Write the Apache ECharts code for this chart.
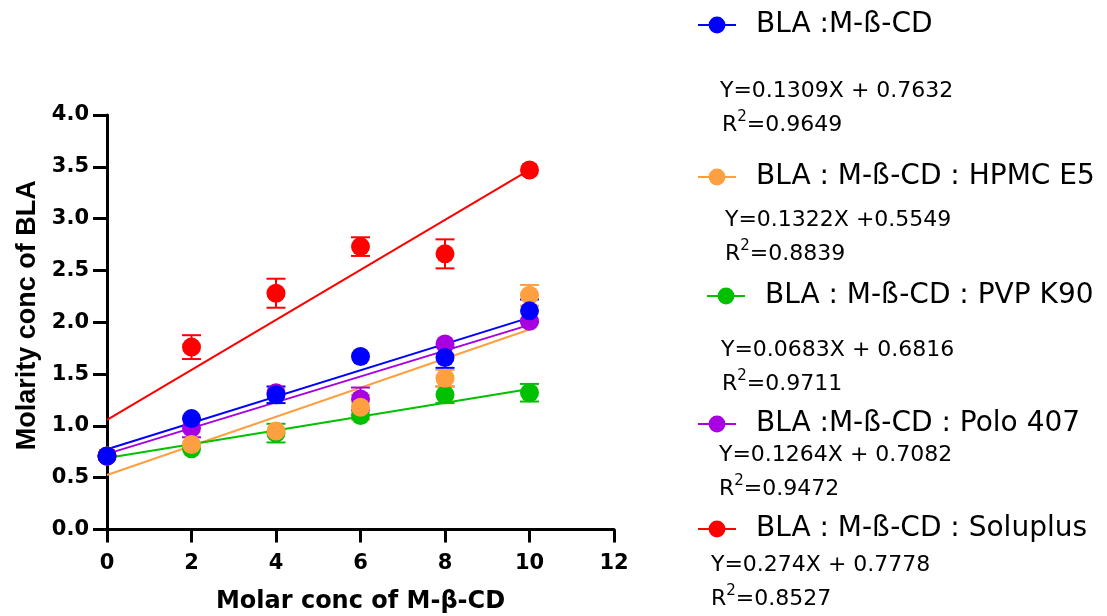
<!DOCTYPE html>
<html><head><meta charset="utf-8">
<script src="https://cdn.jsdelivr.net/npm/echarts@6/dist/echarts.min.js"></script>
<style>html,body{margin:0;padding:0;background:#fff}#c{width:1107px;height:616px}</style>
</head><body><div id="c"></div>
<script>
// ---- data ----
const xValues = [0, 2, 4, 6, 8, 10];
const seriesNames = ['BLA :M-ß-CD', 'BLA : M-ß-CD : HPMC E5', 'BLA : M-ß-CD : PVP K90', 'BLA :M-ß-CD : Polo 407', 'BLA : M-ß-CD : Soluplus'];
const mbcdValues     = [0.71, 1.07, 1.30, 1.67, 1.66, 2.11];
const mbcdErr        = [0.00, 0.00, 0.08, 0.00, 0.10, 0.11];
const hpmcValues     = [0.71, 0.82, 0.95, 1.18, 1.46, 2.26];
const hpmcErr        = [0.00, 0.00, 0.00, 0.12, 0.08, 0.10];
const pvpValues      = [0.71, 0.78, 0.93, 1.10, 1.30, 1.32];
const pvpErr         = [0.00, 0.00, 0.09, 0.00, 0.08, 0.085];
const poloValues     = [0.71, 0.98, 1.32, 1.26, 1.79, 2.01];
const poloErr        = [0.00, 0.09, 0.00, 0.11, 0.00, 0.00];
const soluplusValues = [0.71, 1.76, 2.28, 2.73, 2.66, 3.47];
const soluplusErr    = [0.00, 0.115, 0.14, 0.09, 0.14, 0.00];
// fitted lines drawn from x = 0 to x = 10
const fitX = [0, 10];
const mbcdFit     = [0.774, 2.045];
const hpmcFit     = [0.526, 1.93];
const pvpFit      = [0.69, 1.356];
const poloFit     = [0.73, 1.975];
const soluplusFit = [1.057, 3.47];
const eqTexts = ['Y=0.1309X + 0.7632', 'Y=0.1322X +0.5549', 'Y=0.0683X + 0.6816', 'Y=0.1264X + 0.7082', 'Y=0.274X + 0.7778'];
const r2Values = ['0.9649', '0.8839', '0.9711', '0.9472', '0.8527'];
const xAxisTitle = 'Molar conc of M-β-CD';
const yAxisTitle = 'Molarity conc of BLA';

// ---- styling ----
const colors = ['#0000FF', '#FFA040', '#00C000', '#A800E0', '#FF0000'];
const values = [mbcdValues, hpmcValues, pvpValues, poloValues, soluplusValues];
const errs = [mbcdErr, hpmcErr, pvpErr, poloErr, soluplusErr];
const fits = [mbcdFit, hpmcFit, pvpFit, poloFit, soluplusFit];
const FONT = '"DejaVu Sans", sans-serif';
const FONT_NARROW = '"Liberation Sans", Arial, sans-serif';

function errRender(params, api) {
  const x = api.value(0), lo = api.value(1), hi = api.value(2);
  if (hi - lo <= 0) return null;
  const a = api.coord([x, lo]), b = api.coord([x, hi]);
  const hw = 9.5;
  const style = { stroke: api.visual('color'), lineWidth: 2 };
  return { type: 'group', children: [
    { type: 'line', shape: { x1: a[0], y1: a[1], x2: b[0], y2: b[1] }, style },
    { type: 'line', shape: { x1: a[0] - hw, y1: a[1], x2: a[0] + hw, y2: a[1] }, style },
    { type: 'line', shape: { x1: b[0] - hw, y1: b[1], x2: b[0] + hw, y2: b[1] }, style }
  ]};
}

const series = [];
// fit lines first (legend takes its icon from these)
for (let i = 0; i < 5; i++) {
  series.push({
    type: 'line', name: seriesNames[i], color: colors[i],
    data: fitX.map((x, k) => [x, fits[i][k]]),
    symbol: 'circle', showSymbol: false, z: 2,
    lineStyle: { width: 2, color: colors[i] }, itemStyle: { color: colors[i] },
    silent: true
  });
}
// draw order: green, purple, orange, red, blue (blue on top)
[2, 3, 1, 4, 0].forEach(i => {
  series.push({
    type: 'custom', name: seriesNames[i], z: 3, renderItem: errRender,
    itemStyle: { color: colors[i] },
    encode: { x: 0, y: [1, 2] },
    data: xValues.map((x, k) => [x, values[i][k] - errs[i][k], values[i][k] + errs[i][k]])
  });
  series.push({
    type: 'scatter', name: seriesNames[i], z: 3, symbol: 'circle', symbolSize: 19,
    itemStyle: { color: colors[i], opacity: 1 },
    data: xValues.map((x, k) => [x, values[i][k]])
  });
});

const legendCenters = [26, 178, 297, 425, 530];
const legendLefts = [697, 697, 706, 697, 697];
const legends = seriesNames.map((n, i) => ({
  data: [n], orient: 'vertical', left: legendLefts[i], top: legendCenters[i] - 15,
  padding: 0, itemWidth: 38, itemHeight: 21, selectedMode: false,
  formatter: name => '{pad| }{t|' + name + '}',
  textStyle: { fontFamily: FONT, fontSize: 28, color: '#000',
    rich: { pad: { width: 15 }, t: { fontFamily: FONT, fontSize: 28, color: '#000', lineHeight: 30 } } }
}));

const eqPos = [[720, 91, 722, 123], [725, 220, 725, 252], [721, 350, 722, 382], [719, 455, 719, 487], [711, 565, 711, 597]];
const graphics = [];
eqTexts.forEach((t, i) => {
  const p = eqPos[i];
  graphics.push({ type: 'text', x: p[0], y: p[1], silent: true,
    style: { text: t, font: '22px ' + FONT, fill: '#000', verticalAlign: 'middle', align: 'left' } });
  graphics.push({ type: 'text', x: p[2], y: p[3], silent: true,
    style: { text: '{r|R}{s|2}{r|=' + r2Values[i] + '}', fill: '#000', verticalAlign: 'middle', align: 'left',
      rich: { r: { fontFamily: FONT, fontSize: 22, lineHeight: 26, verticalAlign: 'bottom' },
              s: { fontFamily: FONT, fontSize: 15, lineHeight: 26, verticalAlign: 'top' } } } });
});

const axisLine = { show: true, onZero: false, lineStyle: { color: '#000', width: 3 } };
const option = {
  animation: false,
  backgroundColor: '#fff',
  grid: { left: 107, top: 115, width: 507, height: 414.5, containLabel: false, outerBoundsMode: 'none' },
  xAxis: {
    type: 'value', min: 0, max: 12, interval: 2,
    axisLine, splitLine: { show: false },
    axisTick: { show: true, inside: false, length: 13, lineStyle: { color: '#000', width: 3 } },
    axisLabel: { color: '#000', fontFamily: FONT, fontWeight: 'bold', fontSize: 21, margin: 24 },
    name: xAxisTitle, nameLocation: 'middle', nameGap: 60,
    nameTextStyle: { color: '#000', fontFamily: FONT, fontWeight: 'bold', fontSize: 24 }
  },
  yAxis: {
    type: 'value', min: 0, max: 4, interval: 0.5,
    axisLine, splitLine: { show: false },
    axisTick: { show: true, inside: false, length: 14, lineStyle: { color: '#000', width: 3 } },
    axisLabel: { color: '#000', fontFamily: FONT, fontWeight: 'bold', fontSize: 21, margin: 18,
      formatter: v => v.toFixed(1) },
    name: yAxisTitle, nameLocation: 'middle', nameGap: 66,
    nameTextStyle: { color: '#000', fontFamily: FONT_NARROW, fontWeight: 'bold', fontSize: 27, padding: [0, 0, 0, 14] }
  },
  legend: legends,
  graphic: graphics,
  series
};
const chart = echarts.init(document.getElementById('c'), null, { renderer: 'canvas' });
chart.setOption(option);
</script></body></html>
